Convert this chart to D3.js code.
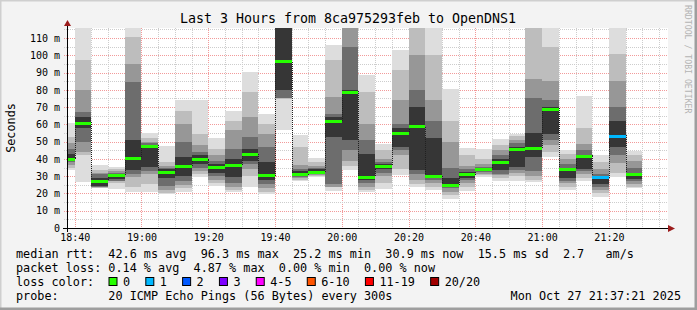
<!DOCTYPE html>
<html>
<head>
<meta charset="utf-8">
<script src="https://cdn.jsdelivr.net/npm/d3@7"></script>
<style>
  body { margin: 0; background: #f3f3f3; }
  svg text { font-family: "DejaVu Sans Mono", monospace; fill: #000; }
</style>
</head>
<body>
<svg id="chart" width="697" height="310"></svg>
<script>
// 5 minute slots (start of each ping round)
var slots = ["18:35", "18:40", "18:45", "18:50", "18:55", "19:00", "19:05", "19:10", "19:15",
  "19:20", "19:25", "19:30", "19:35", "19:40", "19:45", "19:50", "19:55", "20:00", "20:05",
  "20:10", "20:15", "20:20", "20:25", "20:30", "20:35", "20:40", "20:45", "20:50", "20:55",
  "21:00", "21:05", "21:10", "21:15", "21:20", "21:25"];

// median rtt in ms
var median = [40.2, 61, 27.5, 30.4, 40.4, 47.6, 32.7, 36, 39.9,
  35.6, 36.2, 42.6, 30.4, 96.6, 31.2, 32.7, 61.7, 78.8, 29.4,
  35.8, 55.1, 58.8, 30, 25, 31, 34.3, 38.5, 45.9, 46.4,
  69.1, 34.4, 41.8, 29.4, 53.4, 31.1];

// lost pings per round
var loss = [0, 0, 0, 0, 0, 0, 0, 0, 0,
  0, 0, 0, 0, 0, 0, 0, 0, 0, 0,
  0, 0, 0, 0, 0, 0, 0, 0, 0, 0,
  0, 0, 0, 1, 1, 0];

// smoke: lower / upper edge of each shade, outer band first (ms)
var smokeLow = [
  [33.3, 35, 36.5, 38, 39], [26.8, 42, 44, 50, 58], [23, 23.3, 23.6, 24, 24.5],
  [22.3, 26, 27, 27.5, 28.5], [21.1, 23.6, 29.4, 31, 33.3], [20.7, 25.5, 31.3, 33, 35.2],
  [19.7, 20.5, 22, 24.6, 29], [21, 23, 25, 27.5, 30], [29.4, 31, 33, 35, 37],
  [24.6, 26, 28, 30, 32], [20.7, 22, 23.6, 26, 29.4], [23.6, 30, 34.3, 37, 39],
  [19.7, 21, 23, 25.5, 28], [56.5, 74.9, 75, 75.5, 79.7], [27.5, 28, 29, 29.5, 30],
  [29.4, 30, 30.5, 31, 32], [21.7, 23.5, 24, 25.5, 52.6], [33.3, 36, 39, 45, 50.7],
  [20.7, 22, 24, 26, 28], [22.6, 26, 30, 32, 34], [30.4, 34, 42, 45, 47],
  [23.6, 25.5, 28, 31, 33.3], [22, 24, 26, 28, 29], [16.8, 19, 21, 23, 24],
  [21.7, 24, 26, 28, 29], [29.4, 30.5, 31.5, 32.5, 33], [27.5, 29, 30.5, 31.5, 33.3],
  [27.5, 30, 32, 33.5, 35.2], [26.5, 28, 30, 33, 41], [41, 44, 48, 51, 54.6],
  [22.2, 24, 26, 27.5, 29], [27.1, 29, 31, 33, 34], [18.2, 20, 22, 24, 25.5],
  [29.8, 32, 37.5, 42, 47], [23, 24, 25.5, 27, 28.5]
];
var smokeHigh = [
  [61, 52.6, 49, 46, 43], [125, 97, 80, 67, 64], [36.2, 33.5, 32, 31, 29],
  [35.6, 34, 33, 32, 31.5], [125, 110.7, 95, 84.5, 50.7], [55.1, 52, 50, 49, 48],
  [47.2, 38, 36, 34.5, 34], [73.9, 68, 60, 50, 41], [73.9, 54.6, 48, 44, 42],
  [52, 46, 42, 39, 37], [67.7, 62, 56.5, 46, 40], [90.4, 79, 64.2, 52.6, 46],
  [65.8, 60, 54.6, 46.8, 38], [150, 145, 140, 135, 125], [53.6, 47, 36.2, 34, 33],
  [40.6, 38, 36, 35, 34], [105.8, 97, 76, 66, 64], [150, 145, 140, 105, 80],
  [88.4, 79, 60.4, 50.7, 43], [48.4, 45, 40, 38, 37], [102.9, 91.3, 73.9, 60.4, 58],
  [150, 125, 100, 80, 70], [125, 100, 74, 62, 52], [80.7, 62, 50, 35, 29],
  [46.4, 42, 36, 34, 32.5], [45.9, 40, 37, 35.5, 35], [51.7, 48, 45, 42, 40],
  [54.6, 53, 51, 49, 47], [135, 120, 86, 75, 55], [130, 105, 85, 74, 70],
  [45.3, 43, 40, 37, 35], [76.2, 58, 48.6, 45, 42], [42.4, 38, 34, 31, 30],
  [125, 101, 85, 70, 62], [44.7, 42.5, 39, 35, 32]
];

var yTicks = [0, 10, 20, 30, 40, 50, 60, 70, 80, 90, 100, 110];
var lossLabels = ["0", "1", "2", "3", "4-5", "6-10", "11-19", "20/20"];
var lossColors = ["#26ff00", "#00b8ff", "#0059ff", "#7e00ff", "#ff00ff", "#ff5500", "#ff0000", "#a10000"];
var smokeColors = ["#dddddd", "#bdbdbd", "#979797", "#6d6d6d", "#363636"];

var legendRows = [
  "median rtt:  42.6 ms avg  96.3 ms max  25.2 ms min  30.9 ms now  15.5 ms sd  2.7   am/s",
  "packet loss: 0.14 % avg  4.87 % max  0.00 % min  0.00 % now",
  "loss color:",
  "probe:       20 ICMP Echo Pings (56 Bytes) every 300s"
];
var title = "Last 3 Hours from 8ca975293feb to OpenDNS1";
var stamp = "Mon Oct 27 21:37:21 2025";

var plot = { left: 67, right: 668, top: 28, bottom: 228 };

var svg = d3.select('#chart');
var parseTime = d3.utcParse('%H:%M');
var parseFull = d3.utcParse('%H:%M:%S');

// frame
svg.append('rect').attr('width', 697).attr('height', 310).attr('fill', '#f3f3f3');
svg.append('path').attr('d', 'M0,310V0H697').attr('fill', 'none')
  .attr('stroke', '#cfcfcf').attr('stroke-width', 3);
svg.append('path').attr('d', 'M0,309H696V0').attr('fill', 'none')
  .attr('stroke', '#9e9e9e').attr('stroke-width', 3);

svg.append('rect')
  .attr('x', plot.left).attr('y', plot.top)
  .attr('width', plot.right - plot.left).attr('height', plot.bottom - plot.top)
  .attr('fill', '#fff');

var x = d3.scaleUtc()
  .domain([parseFull('18:37:42'), parseFull('21:37:42')])
  .range([plot.left, plot.right]);

var y = d3.scaleLinear()
  .domain([0, 115.8])
  .range([plot.bottom, plot.top]);

// grid
var grid = svg.append('g').attr('shape-rendering', 'crispEdges');
var minorTimes = x.ticks(d3.utcMinute.every(5));
grid.selectAll('line.vx')
  .data(minorTimes)
  .enter()
  .append('line')
  .attr('x1', d => Math.round(x(d)) + 0.5)
  .attr('x2', d => Math.round(x(d)) + 0.5)
  .attr('y1', plot.top)
  .attr('y2', plot.bottom + 2)
  .attr('stroke', d => d.getUTCMinutes() % 20 === 0 ? '#f29a9a' : '#cdcdcd')
  .attr('stroke-dasharray', '1,1');

var minorVals = d3.range(5, 116, 5);
grid.selectAll('line.hy')
  .data(minorVals)
  .enter()
  .append('line')
  .attr('x1', plot.left - 3)
  .attr('x2', plot.right)
  .attr('y1', d => Math.round(y(d)) + 0.5)
  .attr('y2', d => Math.round(y(d)) + 0.5)
  .attr('stroke', d => d % 10 === 0 ? '#f29a9a' : '#cdcdcd')
  .attr('stroke-dasharray', '1,1');

// smoke
svg.append('clipPath').attr('id', 'clip')
  .append('rect')
  .attr('x', plot.left).attr('y', plot.top)
  .attr('width', plot.right - plot.left).attr('height', plot.bottom - plot.top);

var slotStart = d => Math.round(x(parseTime(d)));
var slotEnd = d => Math.round(x(d3.utcMinute.offset(parseTime(d), 5)));

var smokeGroup = svg.append('g')
  .attr('clip-path', 'url(#clip)')
  .attr('shape-rendering', 'crispEdges');

smokeColors.forEach(function(color, b) {
  smokeGroup.selectAll('rect.band' + b)
    .data(slots)
    .enter()
    .append('rect')
    .attr('class', 'band' + b)
    .attr('x', d => slotStart(d))
    .attr('width', d => slotEnd(d) - slotStart(d))
    .attr('y', (d, i) => y(smokeHigh[i][b]))
    .attr('height', (d, i) => y(smokeLow[i][b]) - y(smokeHigh[i][b]))
    .attr('fill', color);
});

// median step line and loss coloured median marks
var stepPoints = [];
slots.forEach(function(d, i) {
  stepPoints.push([slotStart(d) + 0.5, y(median[i])]);
  stepPoints.push([slotEnd(d) + 0.5, y(median[i])]);
});
smokeGroup.append('path')
  .attr('d', d3.line()(stepPoints))
  .attr('fill', 'none')
  .attr('stroke', '#202020')
  .attr('stroke-dasharray', '1,1')
  .attr('shape-rendering', 'crispEdges');

smokeGroup.selectAll('rect.med')
  .data(slots)
  .enter()
  .append('rect')
  .attr('class', 'med')
  .attr('x', d => slotStart(d))
  .attr('width', d => slotEnd(d) - slotStart(d))
  .attr('y', (d, i) => Math.round(y(median[i])) - 1)
  .attr('height', 3)
  .attr('fill', (d, i) => lossColors[loss[i]]);

// axes
var xAxis = d3.axisBottom(x)
  .ticks(d3.utcMinute.every(20))
  .tickFormat(d3.utcFormat('%H:%M'))
  .tickSize(0)
  .tickPadding(6);
var gx = svg.append('g')
  .attr('transform', `translate(0, ${plot.bottom})`)
  .call(xAxis);
gx.select('.domain').remove();
gx.selectAll('text').style('font-size', '10px').attr('fill', '#000');

var yAxis = d3.axisLeft(y)
  .tickValues(yTicks)
  .tickFormat(d => d === 0 ? '0' : d + ' m')
  .tickSize(0)
  .tickPadding(7);
var gy = svg.append('g')
  .attr('transform', `translate(${plot.left}, 0)`)
  .call(yAxis);
gy.select('.domain').remove();
gy.selectAll('text').style('font-size', '10px').attr('fill', '#000');

svg.append('line')
  .attr('x1', plot.left - 4).attr('x2', plot.right + 3)
  .attr('y1', plot.bottom + 0.5).attr('y2', plot.bottom + 0.5)
  .attr('stroke', '#000').attr('shape-rendering', 'crispEdges');
svg.append('line')
  .attr('x1', plot.left + 0.5).attr('x2', plot.left + 0.5)
  .attr('y1', plot.bottom + 4).attr('y2', plot.top - 4)
  .attr('stroke', '#000').attr('shape-rendering', 'crispEdges');
svg.append('path')
  .attr('d', `M${plot.right},${plot.bottom - 3}L${plot.right + 7},${plot.bottom + 0.5}L${plot.right},${plot.bottom + 4}Z`)
  .attr('fill', '#9b1b1b');
svg.append('path')
  .attr('d', `M${plot.left - 3},${plot.top - 2}L${plot.left + 0.5},${plot.top - 8}L${plot.left + 4},${plot.top - 2}Z`)
  .attr('fill', '#9b1b1b');

// texts
svg.append('text')
  .attr('x', 348).attr('y', 23.3)
  .attr('text-anchor', 'middle')
  .style('font-size', '13.3px')
  .text(title);

svg.append('text')
  .attr('transform', `translate(15, ${(plot.top + plot.bottom) / 2}) rotate(-90)`)
  .attr('text-anchor', 'middle')
  .style('font-size', '11.8px')
  .text('Seconds');

svg.append('text')
  .attr('transform', 'translate(684.5, 5) rotate(90)')
  .style('font-size', '8.2px')
  .attr('fill', '#b4b4b4')
  .style('fill', '#b4b4b4')
  .text('RRDTOOL / TOBI OETIKER');

var legend = svg.append('g');
legendRows.forEach(function(row, i) {
  legend.append('text')
    .attr('x', 16)
    .attr('y', 257.5 + i * 14)
    .style('font-size', '11.8px')
    .style('white-space', 'pre')
    .text(row);
});

var lx = 108.5;
lossLabels.forEach(function(lab, i) {
  legend.append('rect')
    .attr('x', lx + 0.5).attr('y', 277.5)
    .attr('width', 8).attr('height', 8)
    .attr('fill', lossColors[i])
    .attr('stroke', '#000');
  legend.append('text')
    .attr('x', lx + 14.5)
    .attr('y', 285.5)
    .style('font-size', '11.8px')
    .text(lab);
  lx += 29.7 + lab.length * 7.11;
});

legend.append('text')
  .attr('x', 681)
  .attr('y', 299.5)
  .attr('text-anchor', 'end')
  .style('font-size', '11.8px')
  .text(stamp);
</script>
</body>
</html>
